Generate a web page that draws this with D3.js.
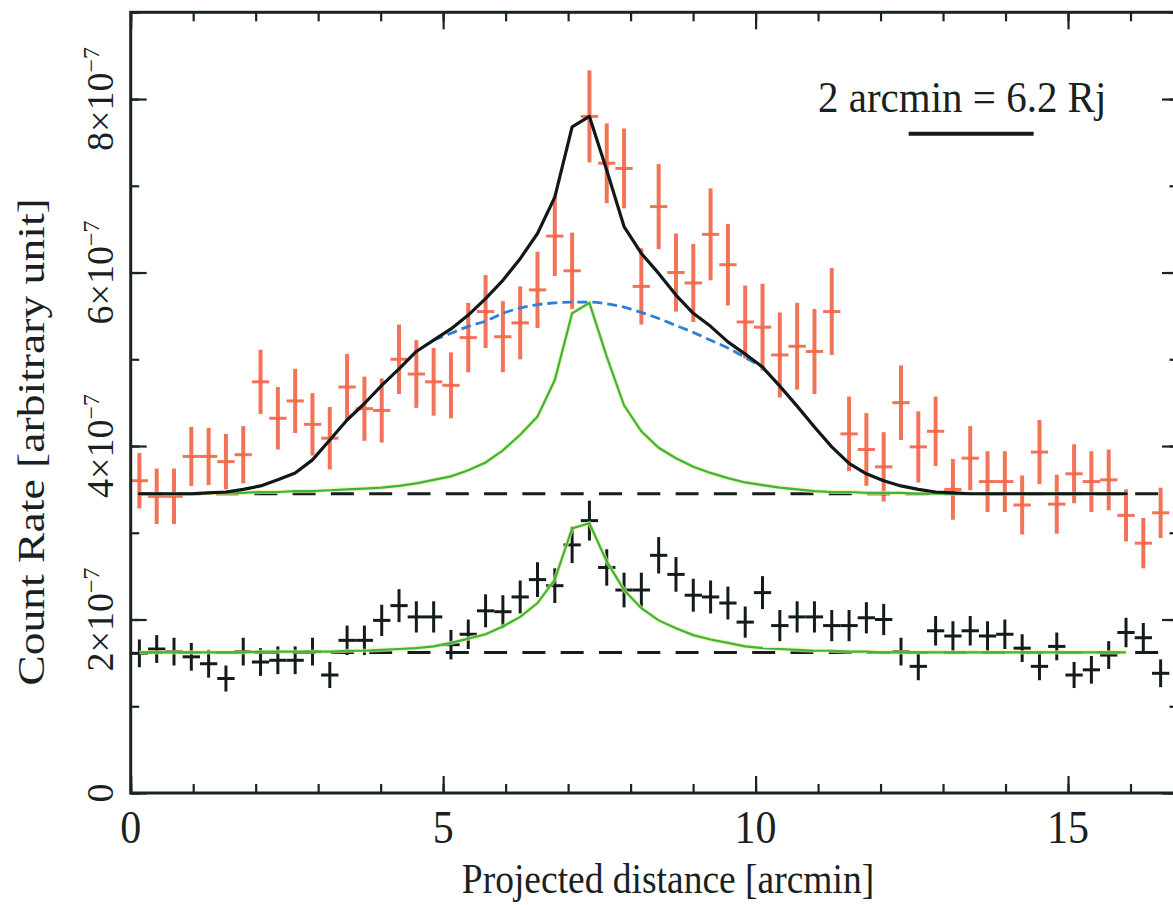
<!DOCTYPE html>
<html><head><meta charset="utf-8">
<script src="https://cdn.jsdelivr.net/npm/d3@7"></script>
<style>
html,body{margin:0;padding:0;background:#fff;}
svg{display:block;overflow:hidden;}
text{font-family:"Liberation Serif","Times New Roman",Times,serif;fill:#1a1f1f;}
</style></head><body>
<svg id="chart" width="1173" height="905"></svg>
<script>
// ---- data (count rates in units of 1e-7) ----
const UNIT = 1e-7;
const xBins = [0.139,0.416,0.693,0.970,1.247,1.524,1.801,2.078,2.355,2.632,2.909,3.186,3.463,3.740,4.017,4.294,4.571,4.848,5.125,5.402,5.679,5.956,6.233,6.510,6.787,7.064,7.341,7.618,7.895,8.172,8.449,8.726,9.003,9.280,9.557,9.834,10.111,10.388,10.665,10.942,11.219,11.496,11.773,12.050,12.327,12.604,12.881,13.158,13.435,13.712,13.989,14.266,14.543,14.820,15.097,15.374,15.651,15.928,16.205,16.482];
const binHalfWidth = 0.1385;

const redValues = [3.60,3.42,3.42,3.88,3.88,3.82,3.90,4.74,4.32,4.52, 4.25,4.09,4.68,4.43,4.41,5.00,4.83,4.74,4.70,5.25, 5.55,5.26,5.42,5.80,6.42,6.02,7.80,7.26,7.20,5.84, 6.76,6.00,5.88,6.44,6.09,5.43,5.37,5.05,5.15,5.09, 5.55,4.14,3.96,3.76,4.50,3.99,4.17,3.50,3.86,3.59, 3.59,3.32,3.93,3.33,3.68,3.59,3.61,3.20,2.88,3.23];
const redErrors = [.32,.32,.32,.34,.33,.32,.33,.37,.36,.37, .36,.36,.38,.37,.37,.40,.39,.39,.38,.40, .42,.41,.42,.44,.46,.44,.53,.46,.46,.44, .49,.45,.45,.53,.47,.42,.50,.49,.50,.49, .50,.43,.42,.40,.43,.41,.40,.35,.37,.35, .35,.34,.37,.34,.34,.35,.35,.30,.29,.29];

const blackValues = [1.61,1.66,1.63,1.57,1.49,1.32,1.63,1.51,1.53,1.53, 1.63,1.36,1.76,1.76,1.99,2.16,2.03,2.03,1.71,1.83, 2.10,2.09,2.26,2.46,2.39,2.86,3.14,2.60,2.34,2.34, 2.74,2.52,2.28,2.26,2.19,1.97,2.31,1.93,2.03,2.03, 1.93,1.93,2.02,2.00,1.63,1.46,1.87,1.81,1.87,1.81, 1.83,1.67,1.46,1.69,1.36,1.42,1.59,1.85,1.79,1.38];
const blackErrors = [.16,.16,.16,.16,.16,.15,.16,.16,.16,.16, .16,.15,.17,.17,.18,.19,.18,.18,.17,.17, .19,.19,.19,.20,.20,.21,.23,.21,.20,.20, .21,.20,.19,.19,.19,.18,.19,.18,.18,.18, .18,.18,.18,.18,.16,.16,.17,.17,.17,.17, .17,.16,.16,.16,.15,.16,.16,.17,.17,.16];

// model curves evaluated at bins 0..57
const modelTotal = [3.45,3.45,3.45,3.45,3.46,3.47,3.50,3.54,3.61,3.69, 3.84,4.07,4.30,4.49,4.70,4.89,5.09,5.22,5.35,5.51, 5.70,5.91,6.16,6.45,6.87,7.68,7.80,7.18,6.53,6.22, 5.99,5.74,5.53,5.38,5.20,5.06,4.91,4.69,4.46,4.22, 3.99,3.80,3.68,3.60,3.54,3.50,3.47,3.46,3.45,3.45, 3.45,3.45,3.45,3.45,3.45,3.45,3.45,3.45];
const modelGreenUpper = [3.45,3.45,3.45,3.45,3.46,3.46,3.46,3.47,3.47,3.48, 3.48,3.49,3.50,3.51,3.52,3.54,3.57,3.61,3.65,3.72, 3.81,3.95,4.13,4.34,4.76,5.53,5.65,5.03,4.47,4.17, 3.98,3.86,3.76,3.69,3.63,3.58,3.55,3.52,3.50,3.48, 3.47,3.47,3.46,3.46,3.46,3.45,3.45,3.45,3.45,3.45, 3.45,3.45,3.45,3.45,3.45,3.45,3.45,3.45];
const modelGreenLower = [1.62,1.62,1.62,1.62,1.62,1.62,1.62,1.63,1.63,1.63, 1.63,1.63,1.64,1.64,1.65,1.66,1.67,1.69,1.73,1.78, 1.83,1.92,2.03,2.19,2.46,3.05,3.11,2.67,2.34,2.13, 1.99,1.90,1.82,1.77,1.73,1.69,1.67,1.66,1.65,1.64, 1.64,1.63,1.63,1.62,1.62,1.62,1.62,1.62,1.62,1.62, 1.62,1.62,1.62,1.62,1.62,1.62,1.62,1.62];
// broad component (visible part, bins 17..36)
const blueStart = 17;
const modelBlue = [5.22,5.30,5.38,5.44,5.53,5.59,5.63,5.65,5.66,5.66, 5.64,5.60,5.54,5.47,5.39,5.31,5.22,5.13,5.02,4.91];

const baselines = [3.45, 1.62];
const xMajorTicks = [0,5,10,15];
const xTickLabels = ["0","5","10","15"];
const yMajorTicks = [0,2,4,6,8];
const yTickMantissa = ["0","2×10","4×10","6×10","8×10"];
const yTickExponent = "−7";
const scaleBarX = [12.45, 14.45];
const scaleBarY = 7.6;
const annotation = "2 arcmin = 6.2 Rj";
const xTitle = "Projected distance [arcmin]";
const yTitle = "Count Rate [arbitrary unit]";

// ---- layout ----
const L = 130.7, R = 1178, T = 12.3, B = 793;
const x = d3.scaleLinear().domain([0, 16.76]).range([L, R]);
const y = d3.scaleLinear().domain([0, 9 * UNIT]).range([B, T]);
const svg = d3.select("#chart");
const axisColor = "#1b2424";

// red data points
const red = svg.append("g").attr("stroke", "#f2674b").attr("stroke-opacity", 0.92);
xBins.forEach((xv, i) => {
  red.append("line").attr("x1", x(xv)).attr("x2", x(xv))
    .attr("y1", y((redValues[i] - redErrors[i]) * UNIT)).attr("y2", y((redValues[i] + redErrors[i]) * UNIT))
    .attr("stroke-width", 4);
  red.append("line").attr("x1", x(xv - binHalfWidth)).attr("x2", x(xv + binHalfWidth))
    .attr("y1", y(redValues[i] * UNIT)).attr("y2", y(redValues[i] * UNIT))
    .attr("stroke-width", 3);
});

// dashed baselines
baselines.forEach(b => {
  svg.append("line").attr("x1", x(xBins[0])).attr("x2", x(16.76))
    .attr("y1", y(b * UNIT)).attr("y2", y(b * UNIT))
    .attr("stroke", "#161c1c").attr("stroke-width", 3).attr("stroke-dasharray", "23 15.3");
});

const lineFrom = (vals, start) => d3.line()
  .x((d, i) => x(xBins[i + start]))
  .y(d => y(d * UNIT))(vals);

function drawGreen(vals) {
  svg.append("path").attr("d", lineFrom(vals, 0)).attr("fill", "none")
    .attr("stroke", "#e9f27a").attr("stroke-opacity", 0.7).attr("stroke-width", 4.2);
  svg.append("path").attr("d", lineFrom(vals, 0)).attr("fill", "none")
    .attr("stroke", "#3cb34a").attr("stroke-width", 2.2);
}
drawGreen(modelGreenUpper);

// blue dashed broad component
svg.append("path")
  .attr("d", d3.line().curve(d3.curveMonotoneX).x((d, i) => x(xBins[i + blueStart])).y(d => y(d * UNIT))(modelBlue))
  .attr("fill", "none").attr("stroke", "#2f7fd8").attr("stroke-width", 2.8).attr("stroke-dasharray", "10 5");

// total model
svg.append("path").attr("d", lineFrom(modelTotal, 0)).attr("fill", "none")
  .attr("stroke", "#111818").attr("stroke-width", 3.2).attr("stroke-linejoin", "round").attr("stroke-linecap", "round");

// black data points
const blk = svg.append("g").attr("stroke", "#141b1b");
xBins.forEach((xv, i) => {
  blk.append("line").attr("x1", x(xv)).attr("x2", x(xv))
    .attr("y1", y((blackValues[i] - blackErrors[i]) * UNIT)).attr("y2", y((blackValues[i] + blackErrors[i]) * UNIT))
    .attr("stroke-width", 3);
  blk.append("line").attr("x1", x(xv - binHalfWidth)).attr("x2", x(xv + binHalfWidth))
    .attr("y1", y(blackValues[i] * UNIT)).attr("y2", y(blackValues[i] * UNIT))
    .attr("stroke-width", 3);
});

drawGreen(modelGreenLower);

// ---- axes (inward ticks on all sides) ----
function styleAxis(g) {
  g.select(".domain").remove();
  g.selectAll(".tick line").attr("stroke", axisColor).attr("stroke-width", 2.2);
  g.selectAll(".tick text").remove();
}
const xMinor = d3.range(0, 17, 1);
const yMinor = d3.range(0, 10, 1).map(v => v * UNIT);
svg.append("g").attr("transform", `translate(0,${B})`).call(d3.axisBottom(x).tickValues(xMinor).tickSize(-9)).call(styleAxis);
svg.append("g").attr("transform", `translate(0,${B})`).call(d3.axisBottom(x).tickValues(xMajorTicks).tickSize(-17)).call(styleAxis);
svg.append("g").attr("transform", `translate(0,${T})`).call(d3.axisTop(x).tickValues(xMinor).tickSize(-9)).call(styleAxis);
svg.append("g").attr("transform", `translate(0,${T})`).call(d3.axisTop(x).tickValues(xMajorTicks).tickSize(-17)).call(styleAxis);
svg.append("g").attr("transform", `translate(${L},0)`).call(d3.axisLeft(y).tickValues(yMinor).tickSize(-8.5)).call(styleAxis);
svg.append("g").attr("transform", `translate(${L},0)`).call(d3.axisLeft(y).tickValues(yMajorTicks.map(v => v * UNIT)).tickSize(-16)).call(styleAxis);
svg.append("g").attr("transform", `translate(${R},0)`).call(d3.axisRight(y).tickValues(yMinor).tickSize(-8.5)).call(styleAxis);
svg.append("g").attr("transform", `translate(${R},0)`).call(d3.axisRight(y).tickValues(yMajorTicks.map(v => v * UNIT)).tickSize(-16)).call(styleAxis);

// frame
svg.append("rect").attr("x", L).attr("y", T).attr("width", R - L).attr("height", B - T)
  .attr("fill", "none").attr("stroke", axisColor).attr("stroke-width", 3);

// ---- text ----
xMajorTicks.forEach((v, i) => {
  svg.append("g").attr("transform", `translate(${x(v)},843) scale(1,1.1)`)
    .append("text").attr("text-anchor", "middle").style("font-size", "42px").text(xTickLabels[i]);
});
yMajorTicks.forEach((v, i) => {
  const t = svg.append("g").attr("transform", `translate(113,${y(v * UNIT)})`)
    .append("text").attr("transform", "rotate(-90)").attr("text-anchor", "middle").style("font-size", "38px");
  t.append("tspan").text(yTickMantissa[i]);
  if (v > 0) t.append("tspan").attr("dy", -14).style("font-size", "24px").text(yTickExponent);
});
svg.append("g").attr("transform", `translate(668,893) scale(1,1.15)`)
  .append("text").attr("text-anchor", "middle").style("font-size", "37.5px").text(xTitle);
svg.append("g").attr("transform", `translate(44,442) scale(1,1.2)`)
  .append("text").attr("transform", "rotate(-90)").attr("text-anchor", "middle").style("font-size", "38px").text(yTitle);
svg.append("g").attr("transform", `translate(818,112) scale(1,1.08)`)
  .append("text").style("font-size", "41px").text(annotation);

// scale bar
svg.append("line").attr("x1", x(scaleBarX[0])).attr("x2", x(scaleBarX[1]))
  .attr("y1", y(scaleBarY * UNIT)).attr("y2", y(scaleBarY * UNIT))
  .attr("stroke", "#141b1b").attr("stroke-width", 4);
</script>
</body></html>
